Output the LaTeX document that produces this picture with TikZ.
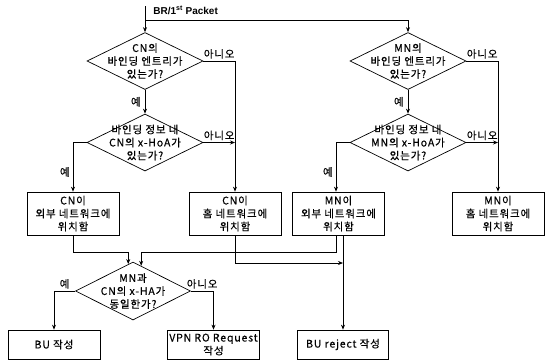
\documentclass[tikz,border=0pt]{standalone}
\usepackage{fontspec}
\setmainfont{Noto Sans CJK KR}[LetterSpace=8,FakeBold=0.4]
\newfontfamily\latb{Liberation Sans}
\usetikzlibrary{shapes.geometric,arrows.meta}
\begin{document}
\begin{tikzpicture}[x=1pt,y=-1pt,
  line width=0.7pt,
  >={Stealth[length=5pt,width=4pt]},
  every node/.style={font=\fontsize{10.5}{13}\selectfont},
  dia/.style={draw, shape=diamond, minimum width=116pt, minimum height=57pt, inner sep=0pt},
  dtxt/.style={align=center, inner sep=0pt},
  box/.style={draw, rectangle, minimum width=92pt, minimum height=43pt, align=center, inner sep=0pt},
  sbox/.style={box, minimum height=29pt},
  lbl/.style={inner sep=0pt},
]
\useasboundingbox (0,0) rectangle (546,360);

% title
\node[anchor=west, inner sep=0pt, font=\latb\bfseries\fontsize{10}{12}\selectfont] (title) at (153,10) {BR/1\textsuperscript{st} Packet};

% decisions
\node[dia, label={[dtxt]center:CN의\\바인딩 엔트리가\\있는가?}] (d1) at (145,61) {};
\node[dia, label={[dtxt]center:바인딩 정보 내\\CN의 x-HoA가\\있는가?}] (d2) at (145,142.5) {};
\node[dia, label={[dtxt]center:MN의\\바인딩 엔트리가\\있는가?}] (d3) at (408,61) {};
\node[dia, label={[dtxt]center:바인딩 정보 내\\MN의 x-HoA가\\있는가?}] (d4) at (408,142.5) {};
\node[dia, minimum width=115pt, minimum height=58pt, label={[dtxt]center:MN과\\CN의 x-HA가\\동일한가?}] (d5) at (133,291) {};

% boxes
\node[box] (cnout) at (73,213.5) {CN이\\외부 네트워크에\\위치함};
\node[box] (cnhome) at (235,213.5) {CN이\\홈 네트워크에\\위치함};
\node[box] (mnout) at (338.5,213.5) {MN이\\외부 네트워크에\\위치함};
\node[box] (mnhome) at (498,213.5) {MN이\\홈 네트워크에\\위치함};
\node[sbox] (bu) at (54,344.5) {BU 작성};
\node[sbox] (vpn) at (213.5,344.5) {VPN RO Request\\작성};
\node[sbox, minimum width=91pt] (rej) at (343,344.5) {BU reject 작성};

% helper coordinates
\coordinate (start) at (145,6);
\coordinate (split) at (145,20);
\coordinate (j1) at (0,252);
\coordinate (j2) at (0,263);

% connectors
\draw[->] (start) -- (d1.north);
\draw[->] (split) -| (d3.north);

\draw[->] (d1.south) -- node[lbl, left=4pt]{예} (d2.north);
\draw[->] (d1.east) -| node[lbl, pos=0.25, above=2pt]{아니오} (cnhome.north);
\draw[->] (d2.east) -- node[lbl, above=2pt]{아니오} (d2.east -| cnhome.north);
\draw[->] (d2.west) -| node[lbl, pos=0.8, left=3pt]{예} (cnout.north);

\draw[->] (d3.south) -- node[lbl, left=4pt]{예} (d4.north);
\draw[->] (d3.east) -| node[lbl, pos=0.25, above=2pt]{아니오} (mnhome.north);
\draw[->] (d4.east) -- node[lbl, above=2pt]{아니오} (d4.east -| mnhome.north);
\draw[->] (d4.west) -| node[lbl, pos=0.8, left=3pt]{예} ([xshift=-2.5pt]mnout.north);

\draw[->] (cnout.south) |- (d5.100 |- j1) -- (d5.100);
\draw[->] ([xshift=-2.5pt]mnout.south) |- (d5.72 |- j1) -- (d5.72);
\draw[->] ([xshift=4.5pt]mnout.south) -- (rej.north);
\draw[->] (cnhome.south) |- (rej.north |- j2);

\draw[->] (d5.west) -| node[lbl, pos=0.25, above=2pt]{예} (bu.north);
\draw[->] (d5.east) -| node[lbl, pos=0.25, above=2pt]{아니오} (vpn.north);
\end{tikzpicture}
\end{document}
